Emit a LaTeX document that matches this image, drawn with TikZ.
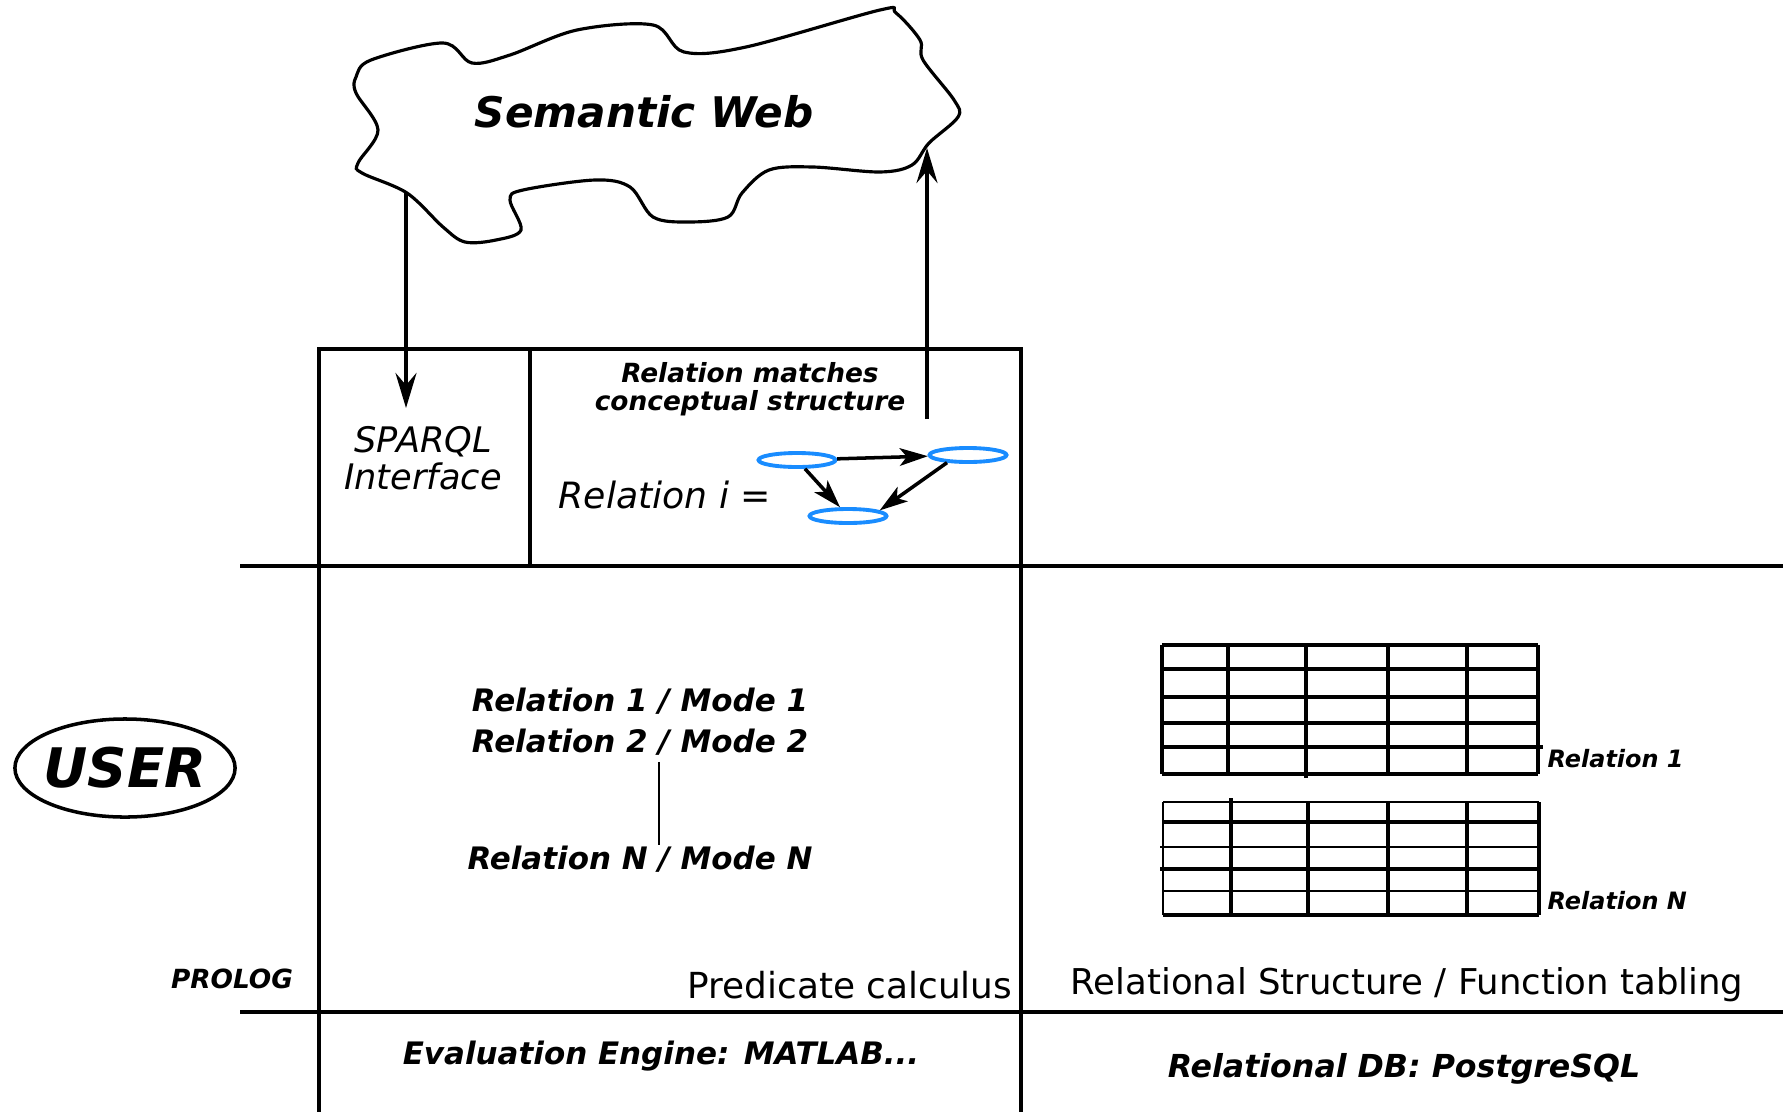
\documentclass[tikz,border=0pt]{standalone}
\usepackage{fontspec}
\setmainfont{DejaVu Sans}
\usepackage{tikz}
\usetikzlibrary{arrows.meta,shapes.geometric}
\definecolor{ovalblue}{RGB}{25,140,255}
\newcommand{\boldit}[2]{\fontsize{#1}{#2}\selectfont\bfseries\itshape}
\newcommand{\plainit}[2]{\fontsize{#1}{#2}\selectfont\itshape}
\newcommand{\plainup}[2]{\fontsize{#1}{#2}\selectfont}

\begin{document}
\begin{tikzpicture}[x=0.01cm, y=-0.01cm,
        boxline/.style={line width=1.3pt},
        midline/.style={line width=0.9pt},
        tabline/.style={line width=0.95pt},
        lbl/.style={inner sep=0pt, align=center},
        arr/.style={line width=1pt, -{Stealth[length=10pt,width=6pt,inset=3.5pt]}},
        garr/.style={line width=1pt, -{Stealth[length=8pt,width=5pt,inset=2pt]}},
        oval/.style={ellipse, draw=ovalblue, line width=1.1pt, inner sep=0pt,
            minimum width=0.77cm, minimum height=0.14cm}]
        \useasboundingbox (0,0) rectangle (1783,1112);

        \draw[line width=0.9pt] plot[smooth cycle, tension=0.55] coordinates {
            (356,77) (371,60) (443,43) (472,63) (510,55) (577,30) (653,25)
            (684,52) (746,47) (880,10) (896,13) (920,40) (923,60) (954,100)
            (958,117) (929,143) (912,165) (880,172) (813,167) (769,170)
            (742,193) (728,217) (688,222) (653,217) (630,187) (595,180)
            (523,190) (510,200) (521,230) (496,240) (465,242) (443,227)
            (407,193) (362,173) (358,163) (378,130) (356,93)};
        \node[lbl, font=\boldit{12pt}{14pt}] (semweb) at (644,112) {Semantic Web};
        \coordinate (cloudL) at (406,192);
        \coordinate (cloudR) at (927,148);

        \draw[boxline] (319,1012) -- (319,349) -- (1021,349) -- (1021,1112);
        \draw[midline] (319,1012) -- (319,1112);
        \draw[midline] (530,349) -- (530,566);
        \draw[boxline] (240,566) -- (1783,566);
        \draw[boxline] (240,1012) -- (1783,1012);

        \node[lbl, font=\plainit{10pt}{10.5pt}] (sparql) at (423,458) {SPARQL\\Interface};
        \coordinate (sparqlIn) at (406,408);
        \draw[arr] (cloudL) -- (sparqlIn);
        \node[lbl, font=\boldit{7.5pt}{8pt}] (match) at (750,389) {Relation matches\\conceptual structure};
        \coordinate (matchOut) at (927,419);
        \draw[arr] (matchOut) -- (cloudR);

        \node[lbl, font=\plainit{10.3pt}{12pt}] (reli) at (665,495) {Relation i =};
        \node[oval] (e1) at (797,460) {};
        \node[oval] (e2) at (968,455) {};
        \node[oval] (e3) at (848,516) {};
        \draw[garr] (e1) -- (e2);
        \draw[garr] (e1) -- (e3);
        \draw[garr] (e2.200) -- (e3.10);

        \node[ellipse, draw, line width=1pt, inner xsep=-1pt, inner ysep=0pt,
            minimum height=0.98cm, font=\boldit{15.5pt}{18pt}] (user) at (125,768) {USER};
        \node[lbl, font=\boldit{7.5pt}{9pt}] (prolog) at (232,979) {PROLOG};

        \node[lbl, font=\boldit{8.8pt}{10pt}] (rel1) at (640,701) {Relation 1 / Mode 1};
        \node[lbl, font=\boldit{8.8pt}{10pt}] (rel2) at (640,742) {Relation 2 / Mode 2};
        \node[lbl, font=\boldit{8.8pt}{10pt}] (relN) at (640,859) {Relation N / Mode N};
        \draw[line width=0.5pt] ([xshift=0.19cm,yshift=-0.06cm]rel2.south) -- ([xshift=0.19cm]relN.north);
        \node[lbl, anchor=east, font=\plainup{10.2pt}{12pt}] (predcalc) at (1013,985) {Predicate calculus};
        \node[lbl, font=\plainup{10.1pt}{12pt}] (relstruct) at (1407,985) {Relational Structure / Function tabling};

        \foreach \y in {645,669,697,723,747,774}
            \draw[tabline] (1162,\y) -- (1538,\y);
        \foreach \x in {1162,1228,1306,1388,1467,1538}
            \draw[tabline] (\x,645) -- (\x,774);
        \draw[tabline] (1538,747) -- (1543,747);
        \draw[tabline] (1306,774) -- (1306,778);
        \foreach \y/\w in {802/0.65,822/0.95,847/0.65,869/0.95,891/0.65,915/0.95}
            \draw[line width=\w pt] (1163,\y) -- (1539,\y);
        \foreach \x/\w in {1163/0.65,1231/0.95,1308/0.95,1388/0.95,1467/0.95,1539/0.95}
            \draw[line width=\w pt] (\x,802) -- (\x,915);
        \draw[tabline] (1231,802) -- (1231,798);
        \draw[line width=0.65pt] (1163,847) -- (1160,847);
        \draw[tabline] (1163,869) -- (1160,869);
        \node[lbl, anchor=west, font=\boldit{6.8pt}{8pt}] (tab1) at (1547,759) {Relation 1};
        \node[lbl, anchor=west, font=\boldit{6.8pt}{8pt}] (tabN) at (1547,901) {Relation N};

        \node[lbl, font=\boldit{8.8pt}{10pt}] (engine) at (661,1056) {Evaluation Engine: MATLAB...};
        \node[lbl, font=\boldit{9pt}{10pt}] (reldb) at (1404,1069) {Relational DB: PostgreSQL};
    \end{tikzpicture}
\end{document}
